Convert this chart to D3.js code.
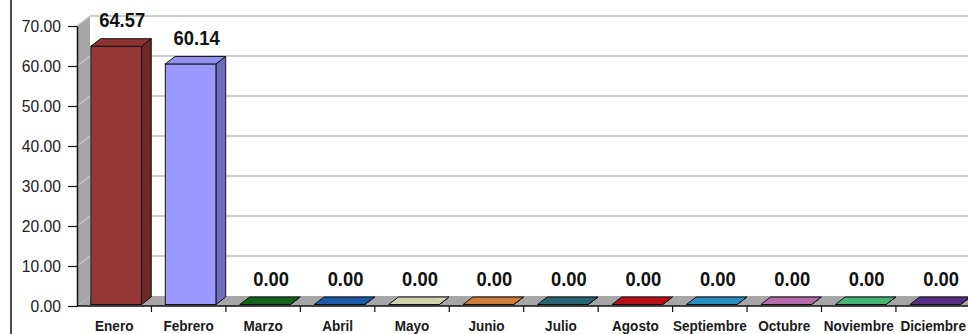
<!DOCTYPE html>
<html>
<head>
<meta charset="utf-8">
<script src="https://cdn.jsdelivr.net/npm/d3@7"></script>
<style>
  html, body { margin: 0; padding: 0; background: #fff; }
  svg { display: block; }
</style>
</head>
<body>
<svg id="chart" width="968" height="334"></svg>
<script>
// Monthly values (3D column chart)
const categories = ["Enero", "Febrero", "Marzo", "Abril", "Mayo", "Junio",
  "Julio", "Agosto", "Septiembre", "Octubre", "Noviembre", "Diciembre"];
const values = [64.57, 60.14, 0.00, 0.00, 0.00, 0.00, 0.00, 0.00, 0.00, 0.00, 0.00, 0.00];
const barColors = ["#953735", "#9999ff", "#17691c", "#1e5eaf", "#dcdbb6", "#d8843f",
  "#2c6b7c", "#c40f1a", "#2a98cf", "#c272b6", "#4bbf7c", "#5a2f8e"];
const yTickValues = [0, 10, 20, 30, 40, 50, 60, 70];

(function () {
const W = 968, H = 334;
const svg = d3.select("#chart");

// plot geometry: front plane of the floor and the 3D depth offset
const plotLeft = 77, plotFront = 306, plotTop = 26;
const depth = { dx: 13, dy: -10 };
const step = 74.45;

const x = d3.scaleBand().domain(categories).range([plotLeft, plotLeft + step * categories.length]).padding(0);
const y = d3.scaleLinear().domain([0, 70]).range([plotFront, plotTop]);

// left border of the chart box
svg.append("line").attr("x1", 11).attr("x2", 11).attr("y1", 0).attr("y2", H)
  .attr("stroke", "#111").attr("stroke-width", 1.5);

// side wall
svg.append("polygon")
  .attr("points", [[plotLeft, y(0)], [plotLeft + depth.dx, y(0) + depth.dy], [plotLeft + depth.dx, y(70) + depth.dy], [plotLeft, y(70)]].join(" "))
  .attr("fill", "#a6a6a6");
// wall grid hints
svg.append("g").selectAll("line").data(yTickValues.filter(v => v > 0)).join("line")
  .attr("x1", plotLeft).attr("x2", plotLeft + depth.dx)
  .attr("y1", d => y(d)).attr("y2", d => y(d) + depth.dy)
  .attr("stroke", "#c6c6c6").attr("stroke-width", 1.5);

// back wall gridlines
svg.append("g").selectAll("line").data(yTickValues.filter(v => v > 0)).join("line")
  .attr("x1", plotLeft + depth.dx).attr("x2", W)
  .attr("y1", d => y(d) + depth.dy).attr("y2", d => y(d) + depth.dy)
  .attr("stroke", "#cdcdcd").attr("stroke-width", 2);

// floor
svg.append("polygon")
  .attr("points", [[plotLeft, y(0)], [plotLeft + depth.dx, y(0) + depth.dy], [W + 20, y(0) + depth.dy], [W + 20, y(0)]].join(" "))
  .attr("fill", "#a6a6a6");

// bars: front face, right side and top
const f0 = 0.15, f1 = 0.9;
const ox = depth.dx * f0, oy = depth.dy * f0;
const bdx = depth.dx * (f1 - f0), bdy = depth.dy * (f1 - f0);
const barW = step * 0.68, barOff = step * 0.16;

const bars = svg.append("g").selectAll("g").data(categories.map((c, i) => ({ c, v: values[i], col: barColors[i] })))
  .join("g");

bars.each(function (d) {
  const g = d3.select(this);
  const x0 = x(d.c) + barOff + ox;
  const x1 = x0 + barW;
  const yb = y(0) + oy;
  const yt = y(d.v) + oy;
  const base = d3.color(d.col);
  const side = base.darker(0.9);
  const topc = base.darker(0.15);
  // side
  g.append("polygon")
    .attr("points", [[x1, yb], [x1 + bdx, yb + bdy], [x1 + bdx, yt + bdy], [x1, yt]].join(" "))
    .attr("fill", side).attr("stroke", "#111").attr("stroke-width", 1).attr("stroke-linejoin", "round");
  // front
  if (yb - yt > 0.5) {
    g.append("rect").attr("x", x0).attr("y", yt).attr("width", barW).attr("height", yb - yt)
      .attr("fill", base).attr("stroke", "#111").attr("stroke-width", 1);
  }
  // top
  g.append("polygon")
    .attr("points", [[x0, yt], [x1, yt], [x1 + bdx, yt + bdy], [x0 + bdx, yt + bdy]].join(" "))
    .attr("fill", topc).attr("stroke", "#111").attr("stroke-width", 1).attr("stroke-linejoin", "round");
});

// value labels
const fmt = d3.format(".2f");
svg.append("g").selectAll("text").data(categories.map((c, i) => ({ c, v: values[i] }))).join("text")
  .attr("transform", d => {
    const cx = x(d.c) + barOff + ox + barW / 2 + 6;
    const by = y(d.v) + oy - 19;
    return `translate(${cx},${by}) scale(0.92,1)`;
  })
  .attr("text-anchor", "middle")
  .attr("font-family", "'Liberation Sans', Arial, sans-serif")
  .attr("font-weight", "bold")
  .attr("font-size", 20)
  .attr("fill", "#111")
  .text(d => fmt(d.v));

// value axis
const yAxis = d3.axisLeft(y).tickValues(yTickValues).tickFormat(fmt).tickSize(9).tickSizeOuter(0).tickPadding(7);
const gy = svg.append("g").attr("transform", `translate(${plotLeft},0)`).call(yAxis);
gy.select(".domain").attr("stroke", "#111").attr("stroke-width", 1.5);
gy.selectAll(".tick line").attr("stroke", "#111").attr("stroke-width", 1.2);
gy.selectAll(".tick text")
  .attr("font-family", "'Liberation Sans', Arial, sans-serif")
  .attr("font-size", 16.5).attr("fill", "#222")
  .attr("transform", "translate(-16,0) scale(0.95,1) translate(16,0)");

// category axis
const xAxis = d3.axisBottom(x).tickSize(0).tickSizeOuter(0).tickPadding(14.5);
const gx = svg.append("g").attr("transform", `translate(0,${plotFront})`).call(xAxis);
gx.select(".domain").attr("d", `M${plotLeft},0H${W}`).attr("stroke", "#111").attr("stroke-width", 1.5);
gx.selectAll(".tick text")
  .attr("font-family", "'Liberation Sans', Arial, sans-serif")
  .attr("font-weight", "bold")
  .attr("font-size", 15.5).attr("fill", "#1a1a1a")
  .attr("transform", "scale(0.875,1)");
// tick marks between categories
gx.append("g").selectAll("line").data(categories.slice(1)).join("line")
  .attr("x1", d => x(d)).attr("x2", d => x(d))
  .attr("y1", 0).attr("y2", 6)
  .attr("stroke", "#111").attr("stroke-width", 1.2);
})();
</script>
</body>
</html>
